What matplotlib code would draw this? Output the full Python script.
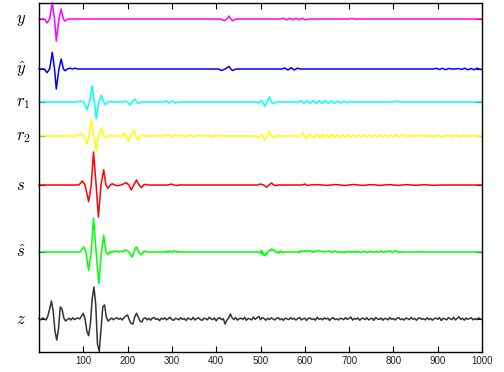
import numpy as np
import matplotlib
matplotlib.use("Agg")
import matplotlib.pyplot as plt

plt.rcParams['mathtext.fontset'] = 'cm'

# ---- data: (sample index, amplitude) key points ----
y_pts = [(0, 0), (12, 0), (18, -4), (24, 0), (30, 16.5), (35, 0), (39, -22), (45, 0), (50, 10),
         (55, 0), (58, -2), (65, 0), (410, 0), (418, -1.7), (424, 0), (429, 3), (433, 0),
         (437, -1.7), (445, 0), (545, 0), (552, 0.8), (559, -0.8), (566, 0.8), (573, -0.8),
         (580, 0.8), (587, -0.8), (594, 0.8), (601, -0.8), (608, 0), (700, 0), (706, 0.6),
         (712, 0), (1000, 0)]

yhat_pts = [(0, 0), (12, 0), (18, -3.7), (24, 0), (30, 16.7), (35, 0), (39, -20), (45, 0),
            (50, 10), (55, 0), (59, -1.7), (64, 0), (70, 0.8), (76, 0), (82, 0.8), (88, 0),
            (405, 0), (412, -1.5), (420, 0), (429, 2.5), (433, 0), (437, -1.5), (445, 0),
            (548, 0), (555, 1), (562, -1), (569, 1.3), (576, -1), (583, 0.8), (590, 0),
            (890, 0), (897, 0.7), (904, -0.5), (911, 0.7), (918, -0.7), (925, 0.5), (932, 0),
            (940, 0), (947, 0.5), (954, -0.5), (961, 0.8), (968, -0.8), (975, 0.5),
            (982, -0.7), (989, 0.8), (996, -0.5), (1000, 0)]

r1_pts = [(0, 0), (85, 0), (94, 1), (101, 0), (108, -7.7), (114, 0), (120, 16.3), (125, 0),
          (129, -16.7), (135, 0), (141, 6.7), (146, 0), (150, -2.7), (155, 0), (159, 0.3),
          (165, 0), (190, 0), (195, 1), (200, 0), (205, -3), (211, 0), (216, 3), (221, 0),
          (225, -1.3), (231, 0), (280, 0), (287, 1), (294, -1), (301, 1), (308, -1), (315, 0),
          (490, 0), (497, -1), (501, 1.5), (505, 0), (510, -4.3), (515, 0), (520, 5), (525, 0),
          (529, -1.5), (535, 0), (585, 0), (592, 1.3), (598, -1.3), (605, 1.3), (612, -1.3),
          (619, 1.3), (626, -1.3), (632, 1.3), (639, -1.3), (646, 1.3), (653, -1.3), (660, 1.3),
          (667, -1.3), (674, 1), (681, -1), (688, 0.8), (695, -0.5), (700, 0), (800, 0),
          (807, 1), (814, 0), (1000, 0)]

r2_pts = [(0, 0), (85, 0), (94, 2.7), (101, 0), (108, -8), (113, 0), (118, 16.7), (124, 0),
          (129, -15), (135, 0), (141, 8.3), (146, 0), (150, -2.3), (155, 0), (159, 0.5), (165, 0),
          (187, 0), (193, 3.3), (197, 0), (201, -5.7), (207, 0), (214, 6), (219, 0), (223, -4),
          (228, 0), (232, 0.7), (238, 0), (285, 0), (291, 2), (296, 0), (300, -1.3), (306, 1.3),
          (312, 0), (320, 0.5), (330, -0.5), (340, 0.5), (350, -0.5), (360, 0.5), (370, -0.3),
          (380, 0.5), (390, -0.5), (400, 0.5), (410, 0), (490, 0), (497, -1), (502, 1.5),
          (505, 0), (510, -4.3), (515, 0), (520, 4.7), (525, 0), (529, -1.5), (535, 0), (590, 0),
          (595, 3.3), (599, 0), (603, -3.3), (607, 0), (612, 2), (616, 0), (620, -2), (624, 0),
          (629, 1.5), (634, -1.5), (639, 1.5), (644, -1.5), (650, 1.5), (656, -1.5), (662, 1.3),
          (668, -1.3), (674, 1.3), (680, -1), (686, 1), (692, -1), (698, 1), (704, -0.8),
          (710, 0.8), (716, -0.8), (722, 0.8), (728, -0.8), (734, 0.8), (740, -0.8), (746, 0.8),
          (752, -0.8), (758, 0.8), (764, -0.8), (770, 0.8), (776, -0.8), (782, 0.8), (788, -0.8),
          (794, 0.8), (800, -0.8), (806, 1), (812, -0.8), (818, 1), (824, 0), (850, 0),
          (860, 0.4), (870, -0.4), (880, 0.4), (890, -0.4), (900, 0.4), (910, -0.4), (920, 0.4),
          (930, -0.4), (940, 0.4), (950, -0.4), (960, 0.4), (970, -0.4), (980, 0.4),
          (990, -0.4), (1000, 0)]

s_pts = [(0, 0), (90, 0), (98, 4), (104, 0), (112, -16.7), (118, 0), (123, 33), (129, 0),
         (134, -32), (140, 0), (146, 15.3), (151, 0), (156, -3.3), (161, 0), (165, 1.3),
         (171, 0), (178, -0.7), (185, 0), (197, 2.3), (203, 0), (208, -5), (214, 0), (220, 5),
         (226, 0), (231, -2.7), (236, 0), (240, 0.7), (246, 0), (292, 0), (299, 1), (305, 0),
         (310, -0.5), (316, 0), (494, 0), (500, 1), (507, 0), (514, -2.2), (519, 0), (525, 2),
         (530, 0), (535, -0.7), (540, 0), (594, 0), (600, 1), (606, -0.5), (612, 0),
         (630, 0.4), (650, -0.4), (670, 0.5), (690, -0.5), (710, 0.5), (730, -0.4), (750, 0.4),
         (770, -0.4), (790, 0.4), (810, -0.4), (830, 0.4), (850, -0.3), (870, 0.3),
         (890, -0.3), (910, 0), (1000, 0)]

shat_pts = [(0, 0), (92, 0), (101, 5), (106, 0), (112, -18.3), (118, 0), (123, 34), (129, 0),
            (135, -31.7), (141, 0), (146, 16.7), (151, 0), (156, -2.7), (160, 0.5), (163, -0.8),
            (166, 0.6), (169, 0.2), (172, 1), (175, 0.3), (178, 0.8), (181, -0.3), (184, 0.6),
            (187, 0.9), (190, 0.2), (193, 1.5), (196, 2.3), (199, 1), (202, 0.6), (205, -1.5),
            (208, -4), (210, -5), (213, -2), (216, 2), (218, 4), (220, 5), (222, 3), (225, 0),
            (228, -1.5), (231, -2.7), (233, -1.5), (236, 0.4), (239, 1), (242, 0.2), (246, 0),
            (285, 0), (288, 0.8), (291, -0.5), (294, 1), (297, 0.3), (300, -0.8), (303, 1.2),
            (306, 0.2), (309, 0.9), (312, -0.4), (315, 0.6), (320, 0), (495, 0), (499, -0.8),
            (501, 1.5), (503, -2), (505, 0.5), (507, -3), (510, -3.7), (512, -1), (514, -2.5),
            (516, 0), (518, 1), (521, 2), (523, 1.2), (525, 3), (527, 1.8), (530, 2.4),
            (533, 0.5), (536, -0.8), (539, 0.3), (542, -1.2), (545, 1.2), (548, -0.5), (551, 0),
            (585, 0), (587, -0.7), (589, 0.8), (591, 0.2), (594, 1.2), (597, 0.4), (600, 1.4),
            (603, 0.3), (606, 1), (609, 1.6), (612, 0.5), (615, 0.8), (618, -0.3), (621, 0.9),
            (624, 0.3), (627, 1.2), (630, 1.6), (633, 0.5), (636, 0.9), (639, 0.2), (642, 0.6),
            (645, -0.2), (648, 0.7), (651, 0.3), (654, 1), (657, 0.1), (660, 0.6), (663, -0.5),
            (666, 0.4), (669, 0.9), (672, 0.1), (675, -0.4), (678, 0.6), (681, -0.6), (684, 0.3),
            (687, -0.8), (690, 0.2), (693, -0.5), (696, 0.6), (699, 0.1), (702, 0.7), (705, -0.3),
            (708, 0.4), (711, 0), (714, 0.8), (717, -0.4), (720, 0.5), (723, 0), (726, -0.6),
            (729, 0.4), (732, 0.8), (735, -0.2), (738, 0.5), (741, -0.5), (744, 0.3), (747, 0.8),
            (750, -0.2), (753, 0.4), (756, -0.6), (759, 0.3), (762, 0.6), (765, -0.3), (768, 0.2),
            (771, 1), (774, 0.3), (777, -0.4), (780, 0.5), (783, -0.2), (786, 0.8), (789, 0.3),
            (792, 1.2), (795, 0.2), (798, -0.5), (801, 0.4), (804, 1.5), (807, 0.8), (810, -0.6),
            (813, 0.3), (816, -0.4), (819, 0.5), (822, 0), (860, 0), (863, 0.4), (866, 0),
            (1000, 0)]

# z sampled every 4 samples from 0 to 1000
z_values = [
    0.5, -0.8, 1.0, 0.2, -1.0, 3, 10, 18, 8, -12,
    -21, -10, 12, 10, 1, -2, -0.5, 0.8, -1.0, 1.2,
    -0.6, 0.5, 1.0, 0, 3, 5.7, 0, -12, -16.7, -5,
    20, 32, 15, -25, -32.5, -10, 12, 14, 2, -2,
    -0.5, 1.0, -0.8, 0.6, 1.2, -0.3, 0.8, -1.0, 1.5, 3,
    4, -1, -4.5, -5, 2, 5.7, 2, -2, -3, 0.5,
    1.2, -0.8,
    0.6, -1.2, 0.9, 1.5, -0.4, 0.3, -1.6, 0.8, -0.2, 1.1,
    -0.9, 0.4, 1.8, -0.6, -1.3, 0.7, 0.2, -0.8, 1.3, -0.3,
    0.5, -1.5, 0.9, 0.1, -0.7, 1.6, -1.0, 0.4, 1.2, -0.5,
    -1.4, 0.8, 0.3, -0.9, 1.7, 0.2, -0.6, 1.0, -1.8, 0.5,
    1.3, -0.7, 0.4, -5.0, -1.2, 0.9, 5.0, 1.1, -0.6, 1.4,
    -1.1, 0.3, 0.8, -0.4, 1.6, -1.3, 0.6, 0.1, -0.9, 2.0,
    -0.3, 1.2, 2.6, -0.8, 1.5, 0.4, -1.2, 0.7, -0.5, 1.1,
    0.2, -1.0, 0.6, 1.4, -0.7, 0.3, -1.3, 0.9, 0.1, -0.6,
    1.2, -0.2, 0.7, -1.1, 0.4, 1.5, -0.9, 0.2, 0.8, -1.4,
    0.6, 1.0, -0.5, 0.3, -1.2, 1.7, -0.3, 0.5, -0.8, 1.1,
    -0.1, 0.9, -1.5, 0.6, 1.3, -0.6, 0.2, -1.0, 0.8, 0.3,
    -0.7, 1.4, -0.4, 0.6, 1.9, -1.1, 0.5, -0.2, 1.0, -1.3,
    0.4, 0.9, -0.6, 1.2, -0.9, 0.3, 0.7, -1.4, 1.6, 0.1,
    -0.5, 1.0, -1.2, 0.6, 0.2, -0.8, 1.5, -0.3, 0.4, -1.0,
    0.8, 1.3, -0.7, 0.2, -1.1, 0.9, 0.4, -0.6, 1.7, -0.2,
    0.5, -1.3, 0.7, 1.1, -0.4, 0.3, -0.9, 1.2, -0.5, 0.6,
    -1.2, 0.4, 0.9, -0.3, 1.4, -1.6, 0.7, 0.1, -0.8, 1.3,
    0.3, -0.7, 1.8, -1.0, 0.6, 2.2, -0.4, 0.8, -1.2, 1.0,
    -0.3, 0.5, 1.2, -0.9, 0.4, -0.6, 1.1, 0.2, -0.5,
]
z_x = np.arange(0, 1001, 4)[:len(z_values)]

labels = [r'$y$', r'$\hat{y}$', r'$r_1$', r'$r_2$', r'$s$', r'$\hat{s}$', r'$z$']
x_ticks = [100, 200, 300, 400, 500, 600, 700, 800, 900, 1000]

# ---- layout / style ----
baselines = [333, 283, 250, 216, 167, 100, 33]
colors = ['#ff00ff', '#0000ff', '#00ffff', '#ffff00', '#ff0000', '#00ff00', '#333333']

series = []
for pts in [y_pts, yhat_pts, r1_pts, r2_pts, s_pts, shat_pts]:
    xs, vs = zip(*pts)
    series.append((np.array(xs), np.array(vs)))
series.append((z_x, np.array(z_values)))

fig = plt.figure(figsize=(5.04, 3.72), dpi=100)
ax = fig.add_axes([39 / 504, 20 / 372, 443 / 504, 349 / 372])

for (xs, vs), b, c in zip(series, baselines, colors):
    ax.plot(xs, vs + b, color=c, lw=1.1, clip_on=False, solid_joinstyle='round')

ax.set_xlim(0, 1000)
ax.set_ylim(0, 349)
ax.set_xticks(x_ticks)
ax.set_xticklabels([str(t) for t in x_ticks], fontsize=7, color='#222222',
                   family=['Liberation Sans', 'DejaVu Sans'])
ax.set_yticks(baselines)
ax.set_yticklabels([])
ax.tick_params(direction='in', length=4, width=0.8, top=True, right=True, pad=3)
for sp in ax.spines.values():
    sp.set_linewidth(1.0)

for lab, b in zip(labels, baselines):
    ax.text(-52, b, lab, fontsize=12, ha='left', va='center', clip_on=False)

fig.savefig('out.png', dpi=100)
